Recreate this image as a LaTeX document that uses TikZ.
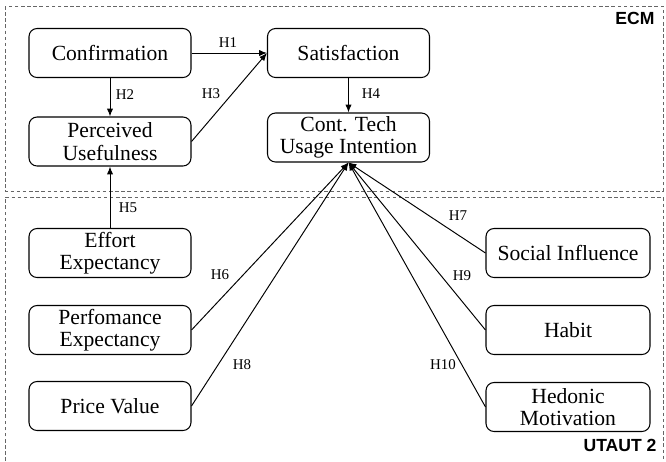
\documentclass[tikz,border=0pt]{standalone}
\usepackage{fontspec}
\setmainfont{Liberation Serif}
\newfontfamily\groupfont{Liberation Sans}
\usetikzlibrary{arrows.meta}

\begin{document}
\begin{tikzpicture}[x=0.02cm,y=-0.02cm]
\tikzstyle{construct}=[draw,line width=0.6pt,rounded corners=0.16cm,minimum width=3.24cm,minimum height=0.98cm,inner sep=0pt,align=center,font=\fontsize{12.3}{12.8}\selectfont]
\tikzstyle{hyp}=[inner sep=1pt,font=\fontsize{8.5}{10}\selectfont]
\tikzstyle{link}=[line width=0.55pt,-{Latex[length=4.5pt,width=3.6pt]}]
\tikzstyle{group}=[draw=black!60,line width=0.5pt,dash pattern=on 2pt off 1.5pt]
\tikzstyle{grouplabel}=[inner sep=0pt,font=\groupfont\bfseries\fontsize{10}{12}\selectfont]
\useasboundingbox (0,0) rectangle (666,461);
% model frames
\draw[group] (5,6) rectangle (663,191);
\draw[group] (5,461) -- (5,197) -- (663,197) -- (663,461);
\node[grouplabel] (ecm) at (635,18) {ECM};
\node[grouplabel] (utaut) at (620,445) {UTAUT 2};
% constructs
\node[construct] (conf) at (110,53) {Confirmation};
\node[construct] (sat) at (348.5,53) {Satisfaction};
\node[construct] (pu) at (110,141.5) {Perceived\\Usefulness};
\node[construct] (ctui) at (348.5,137.5) {Cont. Tech\\Usage Intention};
\node[construct] (ee) at (110,253) {Effort\\Expectancy};
\node[construct] (pe) at (110,330) {Perfomance\\Expectancy};
\node[construct] (pv) at (110,406) {Price Value};
\node[construct,minimum width=3.28cm] (si) at (568,253) {Social Influence};
\node[construct,minimum width=3.28cm] (hab) at (568,330) {Habit};
\node[construct,minimum width=3.28cm] (hm) at (568,407) {Hedonic\\Motivation};
% hypotheses
\draw[link] (conf) -- (sat);
\draw[link] (conf) -- (pu);
\draw[link] (pu.east) -- (sat.west);
\draw[link] (sat) -- (ctui);
\draw[link] (ee) -- (pu);
\draw[link] (pe.east) -- (ctui.south);
\draw[link] (pv.east) -- (ctui.south);
\draw[link] (si.west) -- (ctui.south);
\draw[link] (hab.west) -- (ctui.south);
\draw[link] (hm.west) -- (ctui.south);
\node[hyp] (h1) at (228,43) {H1};
\node[hyp] (h2) at (125,95) {H2};
\node[hyp] (h3) at (211,94) {H3};
\node[hyp] (h4) at (371,94) {H4};
\node[hyp] (h5) at (128,208) {H5};
\node[hyp] (h6) at (220,275) {H6};
\node[hyp] (h7) at (458,216) {H7};
\node[hyp] (h8) at (242,365) {H8};
\node[hyp] (h9) at (462,276) {H9};
\node[hyp] (h10) at (443,365) {H10};
\end{tikzpicture}
\end{document}
